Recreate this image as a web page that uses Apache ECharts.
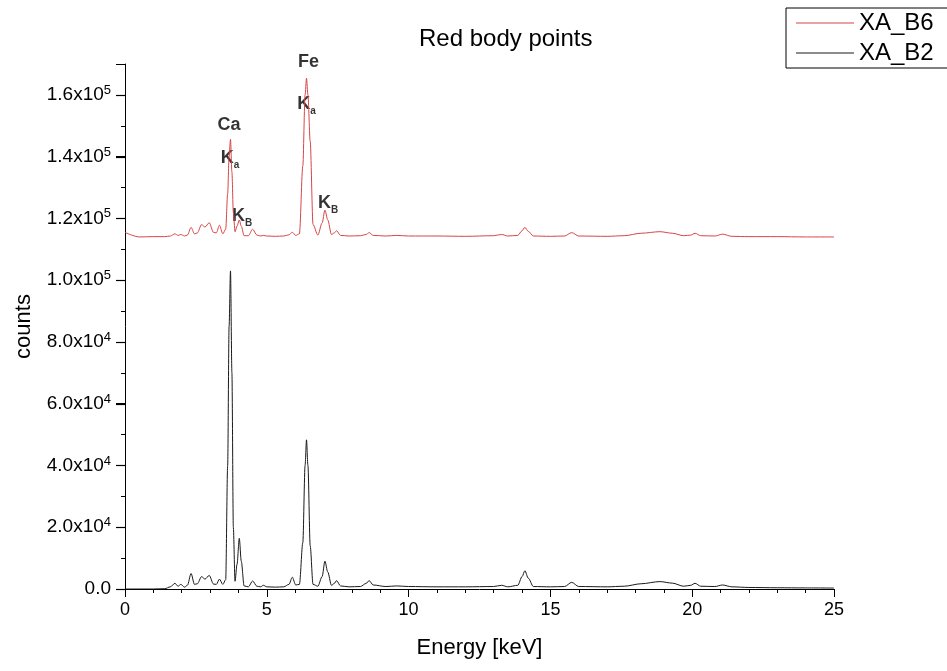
<!DOCTYPE html>
<html>
<head>
<meta charset="utf-8">
<script src="https://cdn.jsdelivr.net/npm/echarts@6/dist/echarts.min.js"></script>
<style>
  html, body { margin: 0; padding: 0; background: #fff; }
  #chart { width: 947px; height: 671px; }
</style>
</head>
<body>
<div id="chart"></div>
<script>
// energy grid (keV), shared by both spectra
const energy = [0, 0.5, 1.0, 1.4, 1.6, 1.76, 1.87, 1.97, 2.1, 2.2, 2.33, 2.45, 2.55, 2.70, 2.82, 2.97, 3.12, 3.22, 3.33, 3.45,
  3.55, 3.62, 3.67, 3.72, 3.77, 3.82, 3.88, 3.95, 4.03, 4.10, 4.20, 4.35, 4.50, 4.65, 4.78, 4.88, 5.0, 5.3, 5.6, 5.78,
  5.90, 6.02, 6.15, 6.27, 6.35, 6.40, 6.45, 6.53, 6.63, 6.80, 6.95, 7.05, 7.15, 7.28, 7.38, 7.46, 7.60, 7.9, 8.3, 8.50,
  8.61, 8.75, 9.2, 9.58, 10.0, 11.0, 12.0, 13.0, 13.28, 13.5, 13.85, 14.0, 14.10, 14.22, 14.4, 15.0, 15.5, 15.75, 16.0, 17.0,
  17.6, 18.2, 18.86, 19.3, 19.7, 19.95, 20.10, 20.3, 20.8, 21.07, 21.4, 22.0, 23.0, 24.0, 25.0];

const countsB6 = [115500, 114000, 114100, 114100, 114300, 115000, 114500, 114800, 114300, 114600, 117100, 115000, 115300, 118000, 117200, 118600, 115500, 115300, 117800, 115000,
  116500, 128000, 140000, 145600, 135000, 122000, 115700, 117500, 119500, 117500, 114400, 114400, 116500, 114600, 114300, 114500, 114300, 114200, 114300, 114700,
  115500, 114500, 115000, 137000, 160000, 165400, 160000, 145000, 118000, 114600, 118500, 122700, 119500, 114800, 115300, 116000, 114500, 114300, 114400, 114800,
  115400, 114500, 114300, 114500, 114300, 114300, 114200, 114400, 114800, 114300, 114500, 116000, 117100, 115800, 114300, 114200, 114300, 115400, 114300, 114200,
  114400, 115200, 115700, 115200, 114400, 114600, 115200, 114400, 114300, 114900, 114200, 114100, 114100, 114000, 114000];

const countsB2 = [0, 0, 0, 100, 700, 1850, 900, 1500, 600, 1200, 5000, 1500, 1700, 4000, 3200, 4400, 1600, 1500, 3200, 1500,
  3000, 40000, 85000, 103000, 70000, 20000, 2500, 8000, 16400, 9000, 1000, 700, 2600, 900, 700, 1200, 700, 600, 700, 1500,
  3800, 1300, 1500, 15000, 40000, 48300, 40000, 14000, 1500, 900, 4000, 9000, 5500, 1200, 1800, 2700, 1000, 700, 800, 1800,
  2700, 1300, 800, 1000, 800, 700, 700, 800, 1200, 700, 1200, 4000, 5900, 3500, 800, 700, 800, 2150, 800, 700,
  900, 1700, 2400, 1900, 900, 1200, 1850, 900, 800, 1300, 700, 500, 400, 350, 300];

const seriesNames = ['XA_B6', 'XA_B2'];

// labelled ticks on the counts axis
const yMajorTicks = [0, 20000, 40000, 60000, 80000, 100000, 120000, 140000, 160000];

// peak annotations: [energy, counts, text]
const annoEnergy = [6.47, 6.40, 3.67, 3.70, 4.13, 7.16];
const annoCounts = [170500, 157100, 150300, 139600, 120800, 125000];
const annoText = ['{b|Fe}', '{k|K}{s|a}', '{b|Ca}', '{k|K}{s|a}', '{k|K}{s|B}', '{k|K}{s|B}'];

const FONT = 'Arial, "Liberation Sans", sans-serif';

const fmtSci = (v) => {
  if (yMajorTicks.indexOf(v) < 0) return '';
  if (v === 0) return '{m|0.0}';
  const e = Math.floor(Math.log10(v) + 1e-9);
  const m = (v / Math.pow(10, e)).toFixed(1);
  return '{m|' + m + 'x10}{e|' + e + '}';
};

const chart = echarts.init(document.getElementById('chart'));

const countsAxis = {
  type: 'value',
  position: 'left',
  min: 0,
  max: 170000,
  axisLine: { show: false },
  axisTick: { show: false },
  axisLabel: { show: false },
  splitLine: { show: false },
};

const option = {
  animation: false,
  textStyle: { fontFamily: FONT, color: '#000' },
  title: {
    text: 'Red body points',
    left: 414,
    top: 22,
    textStyle: { fontFamily: FONT, fontSize: 24, fontWeight: 'normal', color: '#000' },
  },
  legend: {
    data: seriesNames,
    left: 786,
    top: 8,
    orient: 'vertical',
    icon: 'rect',
    itemWidth: 58,
    itemHeight: 1,
    itemGap: 6,
    padding: [3, 30, 3, 10],
    borderColor: '#000',
    borderWidth: 1,
    textStyle: { fontFamily: FONT, fontSize: 24, color: '#000' },
  },
  grid: {
    left: 125,
    right: 113,
    top: 64,
    bottom: 82,
  },
  xAxis: {
    type: 'value',
    min: 0,
    max: 25,
    interval: 5,
    name: 'Energy [keV]',
    nameLocation: 'middle',
    nameGap: 48,
    nameTextStyle: { fontFamily: FONT, fontSize: 22, color: '#000' },
    axisLine: { lineStyle: { color: '#000', width: 1 } },
    axisTick: { length: 8, lineStyle: { color: '#000' } },
    minorTick: { show: true, splitNumber: 5, length: 4, lineStyle: { color: '#000' } },
    axisLabel: { fontFamily: FONT, fontSize: 18, color: '#000', margin: 12 },
    splitLine: { show: false },
  },
  yAxis: [
    // main axis: line, long ticks
    Object.assign({}, countsAxis, {
      interval: 20000,
      axisLine: { show: true, lineStyle: { color: '#000', width: 1 } },
      axisTick: { show: true, length: 9, lineStyle: { color: '#000', width: 1 } },
    }),
    // minor ticks
    Object.assign({}, countsAxis, {
      interval: 10000,
      axisTick: { show: true, length: 4, lineStyle: { color: '#000' } },
    }),
    // labels and name
    Object.assign({}, countsAxis, {
      interval: 20000,
      name: 'counts',
      nameLocation: 'middle',
      nameGap: 90,
      nameTextStyle: { fontFamily: FONT, fontSize: 22, color: '#000' },
      axisLabel: {
        show: true,
        margin: 14,
        showMaxLabel: false,
        formatter: fmtSci,
        rich: {
          m: { fontFamily: FONT, fontSize: 19, color: '#000', lineHeight: 22 },
          e: { fontFamily: FONT, fontSize: 13, color: '#000', lineHeight: 12, verticalAlign: 'top' },
        },
      },
    }),
  ],
  series: [
    {
      name: 'XA_B6',
      type: 'line',
      data: energy.map((e, i) => [e, countsB6[i]]),
      symbol: 'none',
      smooth: 0.3,
      smoothMonotone: 'x',
      color: '#d64545',
      lineStyle: { color: '#d64545', width: 1 },
    },
    {
      name: 'XA_B2',
      type: 'line',
      data: energy.map((e, i) => [e, countsB2[i]]),
      symbol: 'none',
      smooth: 0.3,
      smoothMonotone: 'x',
      color: '#1a1a1a',
      lineStyle: { color: '#1a1a1a', width: 1 },
    },
    {
      // long major ticks on the counts axis, placed through the axis scale
      name: 'majorticks',
      type: 'custom',
      clip: false,
      silent: true,
      z: 10,
      data: yMajorTicks.map((v) => [0, v]),
      renderItem: (params, api) => {
        const p = api.coord([api.value(0), api.value(1)]);
        const y = Math.round(p[1]) + 0.5;
        return {
          type: 'line',
          shape: { x1: p[0] - 9, y1: y, x2: p[0], y2: y },
          style: { stroke: '#000', lineWidth: 1.2 },
        };
      },
    },
    {
      name: 'labels',
      type: 'scatter',
      clip: false,
      symbolSize: 0,
      silent: true,
      data: annoEnergy.map((e, i) => [e, annoCounts[i], annoText[i]]),
      label: {
        show: true,
        position: 'inside',
        formatter: (p) => p.data[2],
        rich: {
          b: { fontFamily: FONT, fontSize: 18, fontWeight: 'bold', color: '#000' },
          k: { fontFamily: FONT, fontSize: 18, fontWeight: 'bold', color: '#000', lineHeight: 24 },
          s: { fontFamily: FONT, fontSize: 10, fontWeight: 'bold', color: '#000', lineHeight: 10, verticalAlign: 'bottom' },
        },
      },
    },
  ],
};

chart.setOption(option);
</script>
</body>
</html>
